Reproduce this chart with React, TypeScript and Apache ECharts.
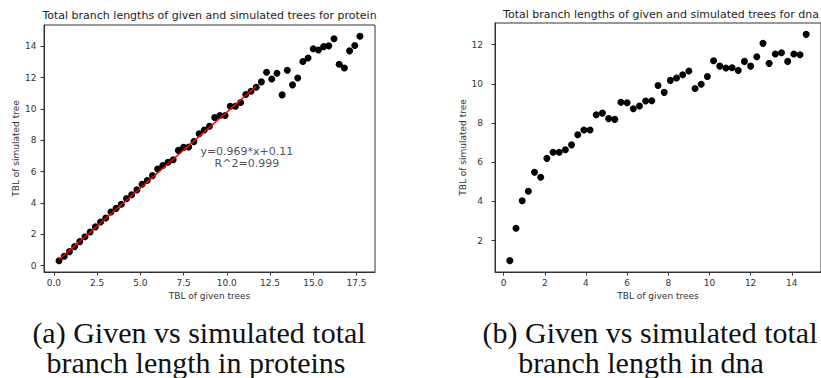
import React, { useEffect, useRef } from "react";
import * as echarts from "echarts";

// ---- data ----
const proteinX = [
  0.3, 0.6, 0.9, 1.2, 1.5, 1.8, 2.1, 2.4, 2.7, 3.0, 3.3, 3.6, 3.9, 4.2, 4.5, 4.8, 5.1, 5.4, 5.7, 6.0,
  6.3, 6.6, 6.9, 7.2, 7.5, 7.8, 8.1, 8.4, 8.7, 9.0, 9.3, 9.6, 9.9, 10.2, 10.5, 10.8, 11.1, 11.4, 11.7, 12.0,
  12.3, 12.6, 12.9, 13.2, 13.5, 13.8, 14.1, 14.4, 14.7, 15.0, 15.3, 15.6, 15.9, 16.2, 16.5, 16.8, 17.1, 17.4, 17.7,
];
const proteinY = [
  0.32, 0.61, 0.9, 1.22, 1.54, 1.85, 2.15, 2.48, 2.79, 3.04, 3.43, 3.66, 3.92, 4.28, 4.53, 4.84, 5.2, 5.44, 5.75, 6.17,
  6.39, 6.6, 6.76, 7.36, 7.55, 7.58, 7.92, 8.42, 8.66, 8.9, 9.46, 9.58, 9.58, 10.18, 10.18, 10.41, 10.92, 11.13, 11.39, 11.73,
  12.35, 11.92, 12.28, 10.9, 12.47, 11.54, 11.98, 13.03, 13.26, 13.84, 13.77, 13.98, 14.03, 14.48, 12.85, 12.62, 13.71, 14.05, 14.64,
];
const dnaX = [
  0.3, 0.6, 0.9, 1.2, 1.5, 1.8, 2.1, 2.4, 2.7, 3.0, 3.3, 3.6, 3.9, 4.2, 4.5, 4.8, 5.1, 5.4, 5.7, 6.0,
  6.3, 6.6, 6.9, 7.2, 7.5, 7.8, 8.1, 8.4, 8.7, 9.0, 9.3, 9.6, 9.9, 10.2, 10.5, 10.8, 11.1, 11.4, 11.7, 12.0,
  12.3, 12.6, 12.9, 13.2, 13.5, 13.8, 14.1, 14.4, 14.7,
];
const dnaY = [
  0.98, 2.63, 4.04, 4.52, 5.49, 5.24, 6.2, 6.51, 6.51, 6.64, 6.89, 7.41, 7.65, 7.65, 8.43, 8.51, 8.23, 8.19, 9.06, 9.04,
  8.73, 8.87, 9.13, 9.14, 9.92, 9.57, 10.18, 10.3, 10.47, 10.66, 9.77, 9.98, 10.38, 11.18, 10.91, 10.81, 10.83, 10.69, 11.15, 10.91,
  11.39, 12.07, 11.05, 11.53, 11.59, 11.15, 11.53, 11.49, 12.53,
];

// regression fit shown on the protein panel
const fitSlope = 0.969;
const fitIntercept = 0.11;
const fitR2 = 0.999;
const fitXRange = [0.3, 11.7];
const annotationAt = [11.16, 6.92];

// axis ranges and ticks
const proteinXRange = [-0.57, 18.57];
const proteinYRange = [-0.4, 15.36];
const dnaXRange = [-0.42, 15.42];
const dnaYRange = [0.4, 13.11];
const proteinXTicks = [0, 2.5, 5, 7.5, 10, 12.5, 15, 17.5];
const proteinYTicks = [0, 2, 4, 6, 8, 10, 12, 14];
const dnaXTicks = [0, 2, 4, 6, 8, 10, 12, 14];
const dnaYTicks = [2, 4, 6, 8, 10, 12];

const titles = [
  "Total branch lengths of given and simulated trees for protein",
  "Total branch lengths of given and simulated trees for dna",
];
const xName = "TBL of given trees";
const yName = "TBL of simulated tree";
const captions = [
  ["(a) Given vs simulated total", "branch length in proteins"],
  ["(b) Given vs simulated total", "branch length in dna"],
];

const SANS = '"DejaVu Sans"';
const SERIF = '"Liberation Serif"';
const INK = "#333";

function xAxis(gridIndex: number, range: number[], ticks: number[], decimals: number) {
  return {
    type: "value",
    gridIndex,
    min: range[0],
    max: range[1],
    name: xName,
    nameLocation: "middle",
    nameGap: 19,
    nameTextStyle: { fontFamily: SANS, fontSize: 9, color: INK },
    axisLine: { show: true, onZero: false, lineStyle: { color: INK, width: 1 } },
    axisTick: { show: true, length: 3.5, inside: false, customValues: ticks, lineStyle: { color: INK, width: 1 } },
    axisLabel: {
      show: true,
      customValues: ticks,
      margin: 6,
      fontFamily: SANS,
      fontSize: 9,
      color: INK,
      formatter: (v: number) => v.toFixed(decimals),
    },
    splitLine: { show: false },
  };
}

function yAxis(gridIndex: number, range: number[], ticks: number[], margin: number) {
  return {
    type: "value",
    gridIndex,
    min: range[0],
    max: range[1],
    name: yName,
    nameLocation: "middle",
    nameGap: 24,
    nameTextStyle: { fontFamily: SANS, fontSize: 9, color: INK },
    axisLine: { show: true, onZero: false, lineStyle: { color: INK, width: 1 } },
    axisTick: { show: true, length: 3.5, inside: false, customValues: ticks, lineStyle: { color: INK, width: 1 } },
    axisLabel: {
      show: true,
      customValues: ticks,
      margin,
      fontFamily: SANS,
      fontSize: 9,
      color: INK,
      formatter: (v: number) => String(Math.round(v)),
    },
    splitLine: { show: false },
  };
}

export default function App() {
  const ref = useRef<HTMLDivElement>(null);

  useEffect(() => {
    if (!ref.current) return;
    const chart = echarts.init(ref.current, undefined, { renderer: "svg" });

    const proteinPts = proteinX.map((x, i) => [x, proteinY[i]]);
    const dnaPts = dnaX.map((x, i) => [x, dnaY[i]]);
    const fitPts = fitXRange.map((x) => [x, fitSlope * x + fitIntercept]);

    const titleText = (text: string, x: number, y: number) => ({
      type: "text",
      x,
      y,
      style: { text, fontFamily: SANS, fontSize: 11, fill: "#222", align: "center", verticalAlign: "middle" },
    });
    const capText = (text: string, x: number, y: number) => ({
      type: "text",
      x,
      y,
      style: { text, fontFamily: SERIF, fontSize: 30, fill: "#111", align: "center", verticalAlign: "middle" },
    });

    chart.setOption({
      animation: false,
      backgroundColor: "#fff",
      grid: [
        { left: 44, top: 25, width: 331, height: 247, show: true, borderColor: INK, borderWidth: 1, backgroundColor: "transparent" },
        { left: 495, top: 23, width: 331, height: 249, show: true, borderColor: INK, borderWidth: 1, backgroundColor: "transparent" },
      ],
      xAxis: [xAxis(0, proteinXRange, proteinXTicks, 1), xAxis(1, dnaXRange, dnaXTicks, 0)],
      yAxis: [yAxis(0, proteinYRange, proteinYTicks, 7.5), yAxis(1, dnaYRange, dnaYTicks, 12)],
      series: [
        {
          type: "scatter",
          xAxisIndex: 0,
          yAxisIndex: 0,
          data: proteinPts,
          symbol: "circle",
          symbolSize: 7,
          itemStyle: { color: "#000", opacity: 1 },
          z: 2,
        },
        {
          type: "line",
          xAxisIndex: 0,
          yAxisIndex: 0,
          data: fitPts,
          showSymbol: false,
          symbol: "none",
          lineStyle: { color: "#ff0000", width: 1.4 },
          z: 3,
        },
        {
          type: "scatter",
          xAxisIndex: 0,
          yAxisIndex: 0,
          data: [annotationAt],
          symbolSize: 0,
          silent: true,
          label: {
            show: true,
            position: "inside",
            formatter: `y=${fitSlope}*x+${fitIntercept}\nR^2=${fitR2}`,
            fontFamily: SANS,
            fontSize: 11,
            lineHeight: 11.6,
            color: "#222",
            align: "center",
            verticalAlign: "middle",
          },
          z: 4,
        },
        {
          type: "scatter",
          xAxisIndex: 1,
          yAxisIndex: 1,
          data: dnaPts,
          symbol: "circle",
          symbolSize: 7,
          itemStyle: { color: "#000", opacity: 1 },
          z: 2,
        },
      ],
      graphic: [
        titleText(titles[0], 209.5, 15.7),
        titleText(titles[1], 661, 14),
        capText(captions[0][0], 199, 332),
        capText(captions[0][1], 196, 362),
        capText(captions[1][0], 650, 332),
        capText(captions[1][1], 641, 362),
      ],
    });

    return () => chart.dispose();
  }, []);

  return (
    <div
      ref={ref}
      style={{ position: "fixed", left: 0, top: 0, width: 821, height: 378, background: "#fff", overflow: "hidden" }}
    />
  );
}
